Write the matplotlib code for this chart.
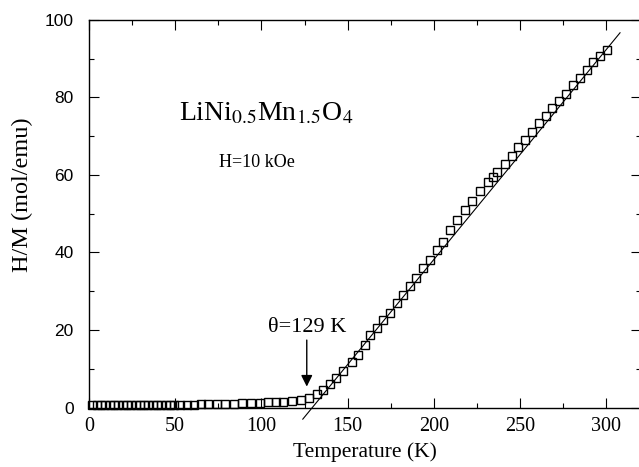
import matplotlib.pyplot as plt
from matplotlib.ticker import MultipleLocator

temp = [2, 4.5, 7, 9.5, 12, 14.5, 17, 19.5, 22, 24.5, 27, 29.5, 32, 34.5, 37,
        39.5, 42, 44.5, 47, 49.5, 53, 57, 61, 65, 69, 74, 79, 84, 89, 94, 99,
        104, 108.5, 112.7, 117.9, 123, 127.6, 132, 135.9, 139.8, 143.3, 147.1,
        152.3, 156.2, 160, 163, 166.9, 170.7, 174.6, 178.5, 182.3, 186.2,
        189.7, 193.5, 197.8, 201.7, 205.1, 209.4, 213.3, 218.1, 222, 226.8,
        231.6, 234.2, 236.9, 241.3, 245.2, 249.1, 252.9, 256.8, 261.2, 264.9,
        268.4, 272.8, 276.7, 280.9, 284.7, 288.6, 292.5, 296.1, 300.3]
hm = [0.6, 0.6, 0.6, 0.6, 0.6, 0.6, 0.6, 0.6, 0.6, 0.6, 0.6, 0.6, 0.6, 0.6,
      0.6, 0.65, 0.65, 0.65, 0.65, 0.7, 0.7, 0.7, 0.75, 0.8, 0.8, 0.85, 0.9,
      1.0, 1.05, 1.15, 1.25, 1.35, 1.45, 1.5, 1.7, 1.9, 2.5, 3.4, 4.5, 6.0,
      7.5, 9.5, 11.7, 13.6, 16.1, 18.7, 20.5, 22.6, 24.5, 26.9, 29.1, 31.4,
      33.4, 36.0, 38.1, 40.7, 42.8, 45.9, 48.4, 50.9, 53.2, 55.8, 58.1, 59.4,
      60.8, 62.8, 65.0, 67.1, 69.1, 71.0, 73.3, 75.3, 77.3, 79.2, 81.0, 83.3,
      85.1, 87.0, 89.1, 90.8, 92.2]

# Curie-Weiss fit line end points
fit_t = [124, 308]
fit_hm = [-3.0, 96.7]

theta_x, theta_top, theta_tip = 126.3, 17.4, 5.4

fig = plt.figure(figsize=(6.39, 4.67), dpi=100)
ax = fig.add_axes([0.1393, 0.1274, 0.8634, 0.8298])

ax.plot(temp, hm, 's', mfc='none', mec='black', ms=5.4, mew=1.0, clip_on=False)
ax.plot(fit_t, fit_hm, '-', color='black', lw=0.8, clip_on=False)

ax.annotate('', xy=(theta_x, theta_tip), xytext=(theta_x, theta_top),
            arrowprops=dict(arrowstyle='-|>', color='black', lw=1,
                            mutation_scale=17, shrinkA=0, shrinkB=0))
ax.text(103.8, 19.5, '\u03b8=129 K', fontsize=16, family='Liberation Serif')

ax.text(52, 74, r'LiNi$_{0.5}$Mn$_{1.5}$O$_4$', fontsize=20,
        family='Liberation Serif', math_fontfamily='stix')
ax.text(75.5, 62, 'H=10 kOe', fontsize=13, family='Liberation Serif')

ax.set_xlim(0, 320)
ax.set_ylim(0, 100)
ax.xaxis.set_major_locator(MultipleLocator(50))
ax.xaxis.set_minor_locator(MultipleLocator(25))
ax.yaxis.set_major_locator(MultipleLocator(20))
ax.yaxis.set_minor_locator(MultipleLocator(10))
ax.tick_params(which='both', direction='in', top=True, right=True, width=0.8)
ax.tick_params(which='major', length=7.2)
ax.tick_params(which='minor', length=3.6)
ax.tick_params(axis='x', pad=7, labelsize=14.5)
ax.tick_params(axis='y', pad=11, labelsize=12.5)
for lab in ax.get_xticklabels():
    lab.set_family('Liberation Serif')
for lab in ax.get_yticklabels():
    lab.set_family('Liberation Sans')
for sp in ax.spines.values():
    sp.set_linewidth(1.0)

ax.set_xlabel('Temperature (K)', fontsize=15.5, family='Liberation Serif', labelpad=4)
ax.set_ylabel('H/M (mol/emu)', fontsize=17.5, family='Liberation Serif')
ax.yaxis.set_label_coords(-0.102, 0.55)

fig.savefig('out.png', dpi=100)
